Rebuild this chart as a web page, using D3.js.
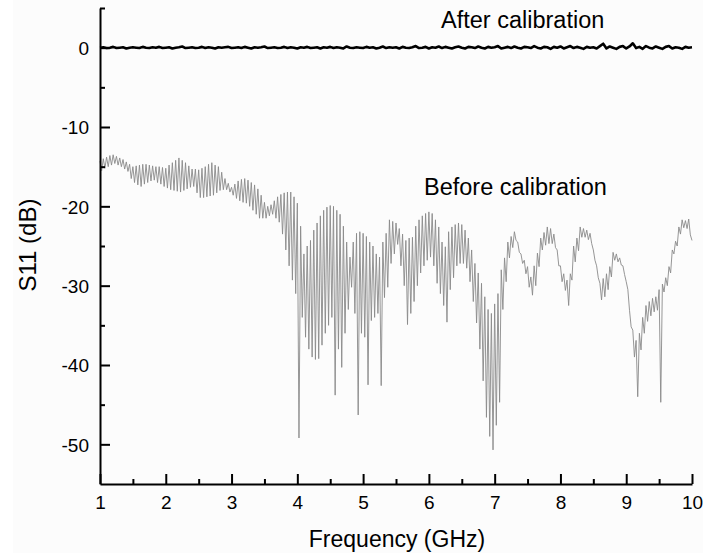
<!DOCTYPE html>
<html>
<head>
<meta charset="utf-8">
<script src="https://cdn.jsdelivr.net/npm/d3@7"></script>
<style>
  html, body { margin: 0; padding: 0; background: #ffffff; }
  svg { display: block; }
  text { font-family: Arial, "Liberation Sans", sans-serif; fill: #000; }
</style>
</head>
<body>
<svg id="chart" width="703" height="556"></svg>
<script>
// ---------- data ----------
const xTicks = [1, 2, 3, 4, 5, 6, 7, 8, 9, 10];
const xMinorTicks = [1.5, 2.5, 3.5, 4.5, 5.5, 6.5, 7.5, 8.5, 9.5];
const yTicks = [-50, -40, -30, -20, -10, 0];
const yMinorTicks = [-45, -35, -25, -15, -5, 5];

// "After calibration": S11 (dB), frequency from 1 GHz, step 0.05 GHz (one row per 0.5 GHz)
const afterStart = 1, afterStep = 0.05;
const afterDb = [
  0.0,0.05,-0.05,0.0,0.1,-0.05,0.0,0.05,-0.1,0.0,
  0.05,0.0,-0.05,0.1,0.0,-0.05,0.05,0.0,0.1,-0.05,
  0.0,0.05,-0.1,0.0,0.05,0.15,-0.05,0.0,0.05,-0.05,
  0.0,0.1,-0.05,0.05,0.0,-0.1,0.05,0.0,0.05,0.1,
  -0.05,0.0,0.05,-0.05,0.1,0.0,-0.1,0.05,0.0,0.05,
  0.15,-0.05,0.0,0.05,-0.05,0.0,0.1,-0.05,0.05,0.0,
  -0.1,0.05,0.0,0.1,-0.05,0.0,0.05,-0.1,0.05,0.0,
  0.1,-0.05,0.05,0.0,-0.1,0.15,0.0,-0.05,0.05,0.0,
  -0.05,0.1,0.0,0.05,-0.1,0.0,0.15,-0.05,0.05,0.0,
  0.05,-0.1,0.1,0.0,-0.05,0.05,0.2,-0.05,0.0,0.1,
  -0.1,0.05,0.0,0.15,-0.05,0.1,0.0,-0.1,0.05,0.15,
  0.0,-0.1,0.1,0.05,-0.05,0.15,0.0,-0.1,0.1,0.0,
  0.05,0.2,-0.1,0.0,0.1,-0.05,0.15,0.0,-0.1,0.1,
  0.05,-0.05,0.2,0.0,-0.1,0.1,0.05,-0.15,0.1,0.0,
  0.15,-0.1,0.05,0.2,-0.05,0.1,0.0,-0.15,0.1,0.0,
  0.05,-0.1,0.2,0.5,-0.1,0.15,0.0,-0.15,0.1,0.2,
  -0.1,0.15,0.55,-0.05,0.1,-0.15,0.2,0.0,-0.1,0.15,
  0.0,-0.15,0.1,0.2,-0.1,0.05,0.0,-0.15,0.1,0.0,
  0.05
];

// "Before calibration": S11 (dB), frequency from 1 GHz, step 0.025 GHz (one row per 0.1 GHz)
const beforeStart = 1, beforeStep = 0.025;
const beforeDb = [
  -14.3,-15.5,-14.0,-15.2,  // 1.0
  -13.8,-15.0,-13.6,-14.8,  // 1.1
  -13.5,-14.6,-13.7,-14.8,  // 1.2
  -13.9,-15.0,-14.1,-15.3,  // 1.3
  -14.4,-15.6,-14.7,-16.5,  // 1.4
  -15.0,-17.0,-14.9,-17.3,  // 1.5
  -14.8,-17.5,-14.7,-17.2,  // 1.6
  -14.7,-17.0,-14.8,-16.8,  // 1.7
  -14.9,-16.7,-15.0,-17.0,  // 1.8
  -15.0,-17.2,-15.1,-17.5,  // 1.9
  -15.2,-17.7,-14.8,-17.9,  // 2.0
  -14.5,-18.0,-14.2,-18.1,  // 2.1
  -13.9,-18.2,-14.2,-18.0,  // 2.2
  -14.5,-17.8,-14.9,-17.6,  // 2.3
  -15.3,-17.5,-15.3,-18.3,  // 2.4
  -15.4,-18.9,-15.2,-18.9,  // 2.5
  -15.0,-18.8,-14.7,-18.7,  // 2.6
  -14.5,-18.6,-14.8,-18.3,  // 2.7
  -15.0,-18.0,-15.7,-17.9,  // 2.8
  -16.5,-17.9,-17.1,-18.2,  // 2.9
  -17.6,-18.6,-17.2,-19.0,  // 3.0
  -16.8,-19.3,-16.6,-19.5,  // 3.1
  -16.5,-19.6,-16.7,-20.0,  // 3.2
  -17.0,-20.5,-17.3,-21.0,  // 3.3
  -17.8,-21.5,-18.6,-21.5,  // 3.4
  -19.5,-21.5,-20.0,-21.2,  // 3.5
  -19.8,-21.0,-19.3,-21.5,  // 3.6
  -18.8,-22.0,-18.5,-23.5,  // 3.7
  -18.3,-25.5,-18.2,-27.5,  // 3.8
  -18.2,-29.3,-18.8,-31.0,  // 3.9
  -19.6,-49.2,-22.5,-34.0,  // 4.0
  -26.0,-36.5,-25.0,-38.0,  // 4.1
  -24.3,-39.0,-23.0,-39.3,  // 4.2
  -22.1,-39.2,-21.2,-37.5,  // 4.3
  -20.5,-36.0,-20.1,-35.0,  // 4.4
  -19.9,-34.0,-20.0,-43.8,  // 4.5
  -20.5,-38.0,-21.0,-40.3,  // 4.6
  -22.5,-36.0,-24.5,-33.0,  // 4.7
  -26.4,-30.2,-24.5,-33.5,  // 4.8
  -23.4,-46.3,-23.2,-36.0,  // 4.9
  -23.4,-36.5,-23.8,-42.5,  // 5.0
  -24.5,-34.4,-25.0,-34.0,  // 5.1
  -26.0,-33.5,-26.4,-42.6,  // 5.2
  -24.5,-31.5,-23.4,-30.2,  // 5.3
  -21.7,-27.2,-21.9,-26.0,  // 5.4
  -22.1,-24.8,-22.8,-27.5,  // 5.5
  -23.5,-30.0,-24.3,-34.9,  // 5.6
  -24.0,-33.5,-23.9,-32.0,  // 5.7
  -22.5,-30.0,-21.7,-28.4,  // 5.8
  -21.2,-27.5,-20.9,-26.8,  // 5.9
  -20.7,-26.4,-20.9,-27.5,  // 6.0
  -21.7,-29.7,-22.6,-31.0,  // 6.1
  -24.5,-32.5,-25.1,-34.6,  // 6.2
  -23.2,-30.5,-22.6,-29.0,  // 6.3
  -22.3,-27.5,-22.1,-27.2,  // 6.4
  -22.3,-27.2,-23.0,-27.8,  // 6.5
  -24.0,-29.5,-25.5,-32.0,  // 6.6
  -27.2,-34.7,-28.4,-38.0,  // 6.7
  -29.7,-42.0,-31.4,-46.6,  // 6.8
  -33.0,-49.0,-33.5,-50.7,  // 6.9
  -32.3,-47.6,-31.0,-44.7,  // 7.0
  -28.0,-33.0,-26.5,-29.5,  // 7.1
  -24.5,-26.5,-23.8,-25.2,  // 7.2
  -23.2,-24.3,-24.5,-25.8,  // 7.3
  -26.0,-27.2,-26.8,-28.5,  // 7.4
  -27.6,-30.2,-28.9,-31.2,  // 7.5
  -27.5,-30.0,-25.9,-27.6,  // 7.6
  -24.0,-25.5,-23.3,-24.9,  // 7.7
  -22.6,-24.7,-22.8,-24.7,  // 7.8
  -23.5,-25.2,-25.5,-27.5,  // 7.9
  -27.5,-29.5,-28.5,-30.6,  // 8.0
  -29.3,-32.5,-28.5,-29.3,  // 8.1
  -25.0,-27.0,-24.0,-25.6,  // 8.2
  -22.6,-23.9,-22.8,-23.9,  // 8.3
  -23.0,-24.2,-23.4,-24.7,  // 8.4
  -25.5,-26.8,-27.5,-29.0,  // 8.5
  -29.7,-31.8,-29.1,-31.4,  // 8.6
  -28.5,-30.5,-27.6,-28.9,  // 8.7
  -25.8,-26.8,-26.0,-27.0,  // 8.8
  -26.5,-27.4,-27.5,-28.6,  // 8.9
  -29.5,-30.5,-33.1,-35.2,  // 9.0
  -35.6,-39.0,-36.9,-44.0,  // 9.1
  -36.0,-38.1,-34.0,-36.0,  // 9.2
  -32.5,-34.5,-32.0,-33.8,  // 9.3
  -31.6,-33.3,-31.4,-33.1,  // 9.4
  -30.5,-44.7,-29.8,-30.8,  // 9.5
  -29.0,-30.0,-27.6,-28.4,  // 9.6
  -25.5,-26.0,-24.4,-25.0,  // 9.7
  -22.6,-23.5,-21.7,-22.7,  // 9.8
  -21.8,-22.8,-21.6,-23.6,  // 9.9
  -24.3                     // 10.0
];

const labelAfter = "After calibration";
const labelBefore = "Before calibration";
const xTitle = "Frequency (GHz)";
const yTitle = "S11 (dB)";

// ---------- chart ----------
const svg = d3.select("#chart");
svg.append("rect").attr("x", 13).attr("y", 0).attr("width", 690).attr("height", 553).attr("fill", "#fcfcfc");

const x = d3.scaleLinear().domain([1, 10]).range([100, 692]);
const y = d3.scaleLinear().domain([-55, 5]).range([484, 8]);

const beforeData = beforeDb.map((v, i) => ({ f: beforeStart + i * beforeStep, v }));
const afterData = afterDb.map((v, i) => ({ f: afterStart + i * afterStep, v }));

const line = d3.line().x(d => x(d.f)).y(d => y(d.v));

svg.append("path").datum(beforeData)
  .attr("d", line).attr("fill", "none")
  .attr("stroke", "#8a8a8a").attr("stroke-width", 0.9);

svg.append("path").datum(afterData)
  .attr("d", line).attr("fill", "none")
  .attr("stroke", "#000").attr("stroke-width", 2.6).attr("stroke-linejoin", "round");

// axes
const fmt = d => String(d);
const gx = svg.append("g").attr("transform", `translate(0,${y(-55)})`)
  .call(d3.axisBottom(x).tickValues(xTicks).tickFormat(fmt)
    .tickSizeInner(-10).tickSizeOuter(0).tickPadding(12));
gx.append("g").call(d3.axisBottom(x).tickValues(xMinorTicks).tickFormat("")
    .tickSizeInner(-5).tickSizeOuter(0)).select(".domain").remove();

const gy = svg.append("g").attr("transform", `translate(${x(1)},0)`)
  .call(d3.axisLeft(y).tickValues(yTicks).tickFormat(fmt)
    .tickSizeInner(-10).tickSizeOuter(0).tickPadding(11));
gy.append("g").call(d3.axisLeft(y).tickValues(yMinorTicks).tickFormat("")
    .tickSizeInner(-5).tickSizeOuter(0)).select(".domain").remove();

svg.selectAll(".domain").attr("stroke", "#000").attr("stroke-width", 2);
svg.selectAll(".tick line").attr("stroke", "#000").attr("stroke-width", 2);
svg.selectAll(".tick text").attr("font-size", "19px")
  .attr("font-family", "Arial, 'Liberation Sans', sans-serif").attr("fill", "#000");
gy.selectAll(".tick text").attr("dy", "0.36em");

// titles
svg.append("text").attr("x", 397).attr("y", 547).attr("text-anchor", "middle")
  .attr("font-size", "23px").text(xTitle);
svg.append("text").attr("transform", "translate(36,245) rotate(-90)")
  .attr("text-anchor", "middle").attr("font-size", "24px").text(yTitle);

// annotations
svg.append("text").attr("x", 441).attr("y", 28).attr("font-size", "23.5px").text(labelAfter);
svg.append("text").attr("x", 424).attr("y", 195).attr("font-size", "23.5px").text(labelBefore);
</script>
</body>
</html>
